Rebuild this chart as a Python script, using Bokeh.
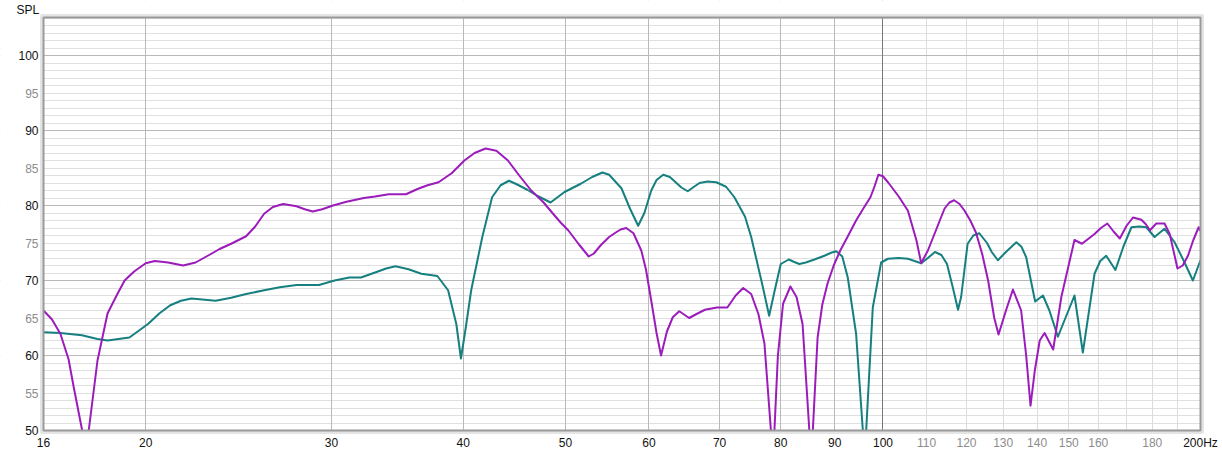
import math
from bokeh.plotting import figure
from bokeh.models import FixedTicker, Grid, Range1d
from bokeh.core.properties import value
from bokeh.embed import file_html
from bokeh.resources import INLINE

# ---- data ----
mag_freq = [16.0, 16.3, 16.6, 16.9, 17.09, 17.41, 17.53, 17.66, 18.0, 18.4, 18.8, 19.1, 19.5, 20.0, 20.4,
            21.0, 21.7, 22.3, 22.9, 23.5, 24.1, 24.9, 25.4, 25.9, 26.4, 27.0, 27.8, 28.3, 28.8, 29.4,
            30.1, 31.0, 32.2, 33.0, 34.0, 35.3, 36.2, 37.0, 37.9, 39.0, 40.1, 41.0, 42.0, 43.0, 44.1,
            45.2, 46.4, 47.6, 48.8, 49.5, 50.3, 51.5, 52.6, 53.2, 54.0, 55.0, 55.8, 56.4, 57.1, 58.0,
            59.0, 59.6, 60.3, 61.0, 61.6, 62.4, 63.2, 64.1, 65.5, 66.5, 67.8, 69.6, 71.2, 72.5, 73.7,
            75.0, 76.2, 77.2, 78.3, 78.6, 78.9, 79.5, 80.4, 81.7, 82.8, 83.9, 85.15, 85.45, 85.8, 86.7,
            87.6, 88.6, 89.8, 91.1, 92.7, 94.3, 95.8, 97.3, 98.2, 99.0, 100.0, 101.1, 103.5, 105.6,
            107.6, 108.7, 110.3, 111.9, 113.2, 114.4, 115.6, 116.8, 118.2, 119.5, 121.0, 122.5, 124.2,
            125.8, 127.5, 128.7, 130.8, 132.8, 135.2, 136.7, 138.0, 139.3, 140.8, 142.3, 145.0, 147.6,
            151.9, 154.4, 158.7, 160.9, 163.2, 165.5, 167.7, 170.2, 172.6, 175.8, 177.5, 179.1, 181.6,
            184.9, 187.0, 190.2, 192.4, 194.6, 196.9, 199.2, 200.0]
mag_spl = [66.0, 64.8, 62.9, 59.5, 55.8, 50.0, 43.0, 50.0, 59.3, 65.6, 68.2, 70.0, 71.2, 72.3, 72.6,
           72.4, 72.0, 72.4, 73.3, 74.2, 74.9, 75.9, 77.2, 78.9, 79.8, 80.2, 79.9, 79.5, 79.2, 79.5,
           80.0, 80.5, 81.0, 81.2, 81.5, 81.5, 82.2, 82.7, 83.1, 84.3, 86.0, 87.0, 87.6, 87.3, 86.0,
           84.0, 82.0, 80.5, 78.7, 77.7, 76.7, 74.8, 73.2, 73.6, 74.7, 75.8, 76.4, 76.8, 77.0, 76.3,
           74.0, 71.5, 67.3, 63.0, 60.0, 63.2, 65.1, 65.9, 65.0, 65.5, 66.1, 66.4, 66.4, 68.0, 69.0,
           68.2, 65.5, 61.6, 50.0, 43.0, 50.0, 60.0, 66.9, 69.2, 67.8, 64.2, 50.0, 43.0, 50.0, 62.4,
           66.8, 69.6, 72.0, 74.0, 76.0, 78.0, 79.6, 81.1, 82.6, 84.1, 83.9, 83.1, 81.2, 79.3,
           75.3, 72.3, 74.0, 76.2, 78.0, 79.6, 80.4, 80.7, 80.2, 79.3, 78.0, 76.4, 73.5,
           70.0, 65.0, 62.8, 66.0, 68.8, 66.0, 60.0, 53.3, 58.0, 62.0, 63.0, 60.8, 67.8,
           75.4, 74.9, 76.2, 77.0, 77.6, 76.5, 75.6, 77.3, 78.4, 78.1, 77.5, 76.7, 77.6,
           77.6, 76.2, 71.6, 72.0, 73.3, 75.4, 77.1, 76.6]

teal_freq = [16.0, 16.6, 17.4, 18.0, 18.4, 19.3, 20.1, 20.6, 21.1, 21.6, 22.1, 23.3, 24.1, 24.9, 25.9,
             26.8, 27.8, 29.2, 30.2, 31.2, 32.0, 33.2, 33.8, 34.5, 35.5, 36.5, 37.8, 38.7, 39.4, 39.8,
             40.2, 40.7, 41.7, 42.6, 43.4, 44.2, 45.0, 46.0, 47.0, 48.4, 49.9, 51.7, 53.0, 54.2, 55.0,
             56.5, 57.6, 58.6, 59.4, 60.3, 61.0, 61.9, 62.8, 64.4, 65.3, 66.2, 67.0, 68.2, 69.5, 71.0,
             72.3, 74.0, 75.0, 76.8, 78.0, 78.9, 80.0, 81.4, 82.3, 83.3, 84.5, 86.1, 88.0, 89.3, 90.3,
             91.5, 92.6, 94.3, 95.7, 96.0, 96.4, 97.8, 99.6, 101.1, 103.5, 105.6, 108.7, 110.3, 112.0,
             113.6, 115.0, 116.5, 117.8, 118.6, 120.3, 121.8, 123.4, 125.5, 126.8, 128.5, 131.0, 133.8,
             135.3, 136.7, 139.4, 141.8, 143.8, 146.5, 151.9, 154.7, 158.7, 160.7, 162.8, 166.1, 169.0,
             172.0, 175.0, 177.7, 180.9, 184.9, 189.0, 193.0, 196.7, 200.0]
teal_spl = [63.1, 63.0, 62.7, 62.2, 62.0, 62.4, 64.2, 65.6, 66.7, 67.3, 67.6, 67.3, 67.7, 68.2, 68.7,
            69.1, 69.4, 69.4, 70.0, 70.4, 70.4, 71.2, 71.6, 71.9, 71.5, 70.9, 70.6, 68.7, 64.2, 59.6,
            63.5, 68.7, 75.8, 81.1, 82.7, 83.3, 82.8, 82.1, 81.3, 80.4, 81.8, 82.9, 83.8, 84.4, 84.1,
            82.3, 79.5, 77.3, 79.0, 82.0, 83.4, 84.1, 83.8, 82.4, 81.9, 82.5, 83.0, 83.2, 83.1, 82.5,
            81.1, 78.5, 75.8, 69.6, 65.3, 68.5, 72.2, 72.8, 72.5, 72.2, 72.4, 72.8, 73.3, 73.7, 73.9,
            73.2, 70.4, 62.9, 50.0, 44.0, 50.0, 66.4, 72.4, 72.9, 73.0, 72.9, 72.3, 73.0, 73.8,
            73.4, 72.2, 69.0, 66.1, 67.8, 74.9, 76.0, 76.3, 75.0, 73.8, 72.7, 73.9, 75.1,
            74.5, 73.1, 67.2, 68.0, 66.0, 62.5, 68.0, 60.4, 70.9, 72.6, 73.3, 71.4, 74.5,
            77.1, 77.2, 77.1, 75.8, 76.9, 75.1, 72.5, 70.0, 72.7]

y_major_ticks = [50, 60, 70, 80, 90, 100]
y_minor_label_ticks = [55, 65, 75, 85, 95]
x_major_ticks = [16, 20, 30, 40, 50, 60, 70, 80, 90, 100, 200]
x_major_labels = ["16", "20", "30", "40", "50", "60", "70", "80", "90", "100", "200Hz"]
x_minor_ticks = [110, 120, 130, 140, 150, 160, 170, 180, 190]
x_minor_labeled = [110, 120, 130, 140, 150, 160, 180]

# ---- layout (pixels) ----
W, H = 1222, 455
FL, FR, FT, FB = 43, 1200, 17, 430      # plot area edges
X_MIN, X_MAX, Y_MIN = 16.0, 200.0, 50.0
PX_PER_DB = 7.5
Y_MAX = Y_MIN + (FB - FT) / PX_PER_DB
DEC = (FR - FL) / math.log10(X_MAX / X_MIN)


def xd(px):
    return X_MIN * 10 ** ((px - FL) / DEC)


def yd(py):
    return Y_MIN + (FB - py) / PX_PER_DB


FONT = "Liberation Sans"
BLACK = "#111111"
GRAY = "#8c8c8c"

p = figure(width=W, height=H, x_axis_type="log",
           x_range=Range1d(xd(0), xd(W)), y_range=Range1d(yd(H), yd(0)),
           output_backend="svg", toolbar_location=None, min_border=0,
           background_fill_color="white", border_fill_color="white")
p.xaxis.visible = False
p.yaxis.visible = False
p.grid.grid_line_color = None
p.outline_line_color = None

# grids
minor_y = [v for v in range(51, 106) if v % 10 != 0]
p.add_layout(Grid(dimension=1, ticker=FixedTicker(ticks=minor_y), grid_line_color="#e0e0e0"))
p.add_layout(Grid(dimension=0, ticker=FixedTicker(ticks=x_minor_ticks), grid_line_color="#dcdcdc"))
p.add_layout(Grid(dimension=1, ticker=FixedTicker(ticks=[60, 70, 80, 90, 100]), grid_line_color="#b9b9b9"))
p.add_layout(Grid(dimension=0, ticker=FixedTicker(ticks=[20, 30, 40, 50, 60, 70, 80, 90]), grid_line_color="#b9b9b9"))
p.add_layout(Grid(dimension=0, ticker=FixedTicker(ticks=[100]), grid_line_color="#777777"))

# curves
p.line(teal_freq, teal_spl, line_color="#167f7f", line_width=2, line_join="round")
p.line(mag_freq, mag_spl, line_color="#9c1cbb", line_width=2, line_join="round")

# white masks outside the plot area
p.quad(left=[xd(0), X_MAX, xd(0), xd(0)], right=[X_MIN, xd(W), xd(W), xd(W)],
       bottom=[yd(H), yd(H), Y_MAX, yd(H)], top=[yd(0), yd(0), yd(0), Y_MIN],
       fill_color="white", line_color=None)

# frame with soft shadow
p.quad(left=[xd(FL - 2)], right=[xd(FR + 2)], bottom=[yd(FB + 2)], top=[yd(FT - 2)],
       fill_color=None, line_color="#e4e4e4", line_width=3)
p.quad(left=[X_MIN], right=[X_MAX], bottom=[Y_MIN], top=[Y_MAX],
       fill_color=None, line_color="#9a9a9a", line_width=2)

# tick labels
lab_x_left = xd(FL - 5)
p.text(x=[lab_x_left] * len(y_major_ticks), y=y_major_ticks, text=[str(v) for v in y_major_ticks],
       text_align="right", text_baseline="middle", text_font=value(FONT),
       text_font_size="12px", text_color=BLACK)
p.text(x=[lab_x_left] * len(y_minor_label_ticks), y=y_minor_label_ticks,
       text=[str(v) for v in y_minor_label_ticks],
       text_align="right", text_baseline="middle", text_font=value(FONT),
       text_font_size="12px", text_color=GRAY)
lab_y_bottom = yd(FB + 12)
p.text(x=x_major_ticks, y=[lab_y_bottom] * len(x_major_ticks), text=x_major_labels,
       text_align="center", text_baseline="middle", text_font=value(FONT),
       text_font_size="12px", text_color=BLACK)
p.text(x=x_minor_labeled, y=[lab_y_bottom] * len(x_minor_labeled),
       text=[str(v) for v in x_minor_labeled],
       text_align="center", text_baseline="middle", text_font=value(FONT),
       text_font_size="12px", text_color=GRAY)
p.text(x=[xd(16)], y=[yd(9)], text=["SPL"], text_align="left", text_baseline="middle",
       text_font=value(FONT), text_font_size="12px", text_color=BLACK)

open("out.html", "w").write(file_html(p, INLINE))
